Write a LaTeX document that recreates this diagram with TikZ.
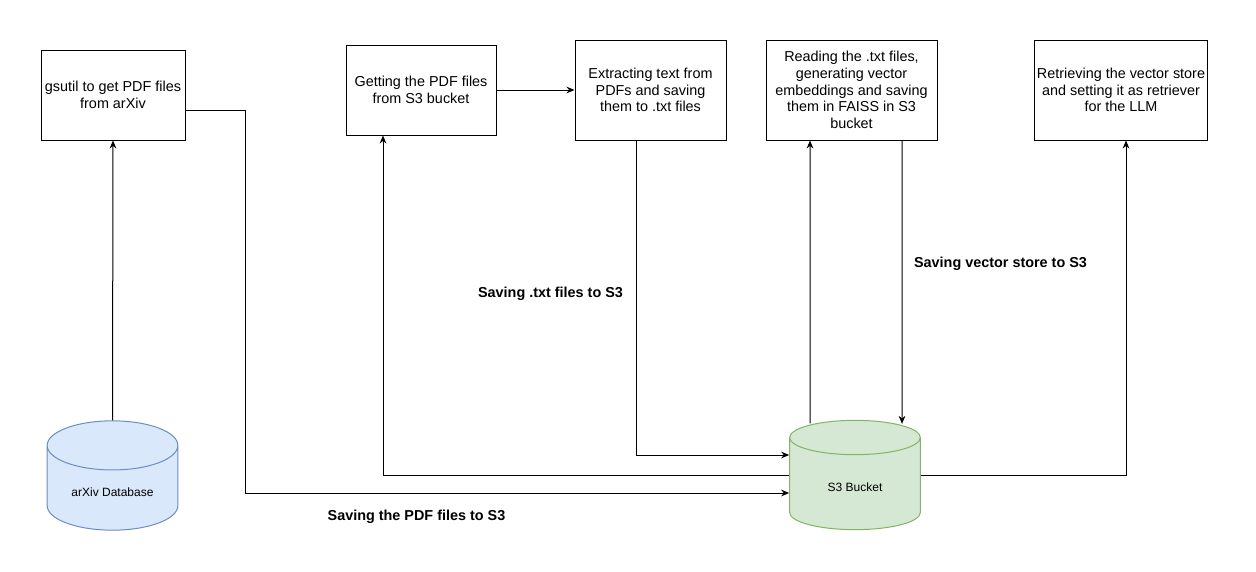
\documentclass[tikz,border=0pt]{standalone}
\usepackage{fontspec}
\setmainfont{Liberation Sans}
\usetikzlibrary{%
  arrows.meta,%
  shapes.geometric,% wg. cylinder
  positioning,%
  calc%
}
\definecolor{dbblue}{HTML}{DAE8FC}
\definecolor{dbbluedraw}{HTML}{6C8EBF}
\definecolor{dbgreen}{HTML}{D5E8D4}
\definecolor{dbgreendraw}{HTML}{82B366}

\begin{document}
\begin{tikzpicture}
  [
  x=0.75pt, y=-0.75pt,
  line width=0.75pt, draw=black, >={Stealth[length=6pt,width=5pt]},
  stepnode/.style={rectangle, draw=black, align=center, inner sep=2pt,
    minimum height=75pt, font=\fontsize{10.8}{12.5}\selectfont},
  dbnode/.style={cylinder, shape border rotate=90, aspect=0.54, draw,
    minimum width=98pt, minimum height=82pt, font=\fontsize{9}{11}\selectfont},
  labelnode/.style={inner sep=1pt, font=\fontsize{10.8}{12.5}\selectfont\bfseries},
  ]
  \useasboundingbox (0,0) rectangle (1256,571);

  % steps
  \node[stepnode, minimum width=108pt, minimum height=67.5pt] (gsutil) at (113,95)
    {gsutil to get PDF files\\from arXiv};
  \node[stepnode, minimum width=112.5pt, minimum height=67.5pt] (getpdf) at (421,90)
    {Getting the PDF files\\from S3 bucket};
  \node[stepnode, minimum width=113.25pt] (extract) at (650.5,90)
    {Extracting text from\\PDFs and saving\\them to .txt files};
  \node[stepnode, minimum width=128.25pt] (reading) at (851.5,90)
    {Reading the .txt files,\\generating vector\\embeddings and saving\\them in FAISS in S3\\bucket};
  \node[stepnode, minimum width=127.5pt] (retrieve) at (1121,90)
    {Retrieving the vector store\\and setting it as retriever\\for the LLM};

  % storage
  \node[dbnode, fill=dbblue, draw=dbbluedraw, anchor=shape center] (arxiv) at (112.5,475.5)
    {arXiv Database};
  \node[dbnode, fill=dbgreen, draw=dbgreendraw, anchor=shape center] (s3) at (855,475)
    {S3 Bucket};

  % flows
  \draw[->] (arxiv.north) -- (gsutil.south);
  \draw[->] ($(gsutil.east)+(0,15)$) -- ++(60,0) |- ($(s3.west |- s3.shape center)+(0,18)$);
  \draw[->] (getpdf.east) -- (extract.west);
  \draw[->] (s3.west |- s3.shape center) -| ($(getpdf.south)+(-38,0)$);
  \draw[->] ($(extract.south)+(-14.5,0)$) |- ($(s3.west |- s3.shape center)+(0,-20)$);
  \draw[->] ($(s3.north)+(-45,3.5)$) -- ($(reading.south)+(-41.5,0)$);
  \draw[->] ($(reading.south)+(50.5,0)$) -- ($(s3.north)+(47,4)$);
  \draw[->] (s3.east |- s3.shape center) -| ($(retrieve.south)+(5,0)$);

  % labels
  \node[labelnode] (lblpdf) at (416.5,517) {Saving the PDF files to S3};
  \node[labelnode] (lbltxt) at (550.5,294) {Saving .txt files to S3};
  \node[labelnode] (lblvec) at (1000.5,264) {Saving vector store to S3};
\end{tikzpicture}
\end{document}
